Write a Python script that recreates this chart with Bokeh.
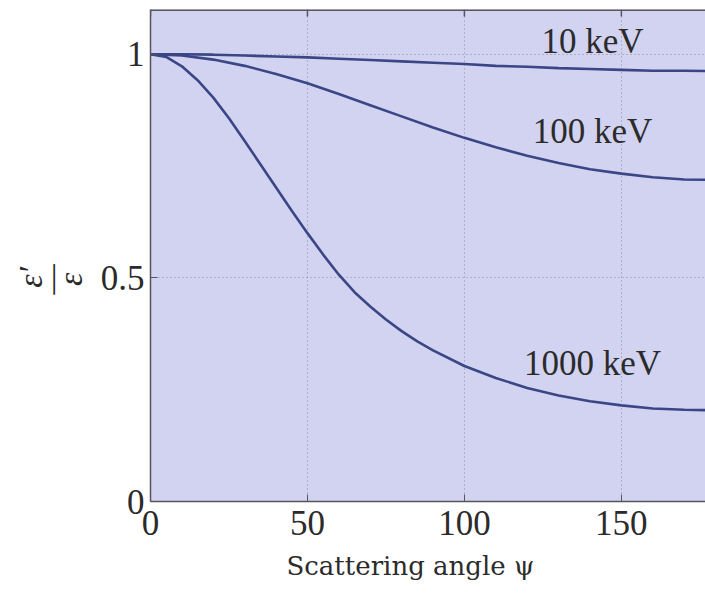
import numpy as np
from bokeh.plotting import figure
from bokeh.models import Range1d, FixedTicker, Label, Title, Span
from bokeh.embed import file_html
from bokeh.resources import INLINE

# Scattering angle (degrees) sample points
psi_10 = [0, 10, 20, 30, 40, 50, 60, 70, 80, 90, 100, 110, 120, 130, 140, 150, 160, 170, 180]
ratio_10 = [1.0, 1.0, 0.999, 0.997, 0.995, 0.993, 0.990, 0.987, 0.984, 0.981, 0.978,
            0.974, 0.972, 0.969, 0.967, 0.965, 0.963, 0.963, 0.962]

psi_100 = [0, 10, 20, 30, 40, 50, 60, 70, 80, 90, 100, 110, 120, 130, 140, 150, 160, 170, 180]
ratio_100 = [1.0, 0.997, 0.988, 0.974, 0.956, 0.935, 0.911, 0.886, 0.861, 0.836, 0.813,
             0.792, 0.773, 0.757, 0.743, 0.733, 0.725, 0.720, 0.719]

psi_1000 = [0, 5, 10, 15, 20, 25, 30, 35, 40, 45, 50, 55, 60, 65, 70, 75, 80, 85, 90,
            100, 110, 120, 130, 140, 150, 160, 170, 180]
ratio_1000 = [1.0, 0.994, 0.973, 0.942, 0.903, 0.857, 0.806, 0.754, 0.702, 0.650, 0.600,
              0.552, 0.507, 0.468, 0.436, 0.407, 0.381, 0.358, 0.338,
              0.303, 0.276, 0.254, 0.237, 0.224, 0.215, 0.208, 0.205, 0.204]

curve_labels = ["10 keV", "100 keV", "1000 keV"]
label_x = [140.8, 140.8, 140.8]
label_y = [1.029, 0.828, 0.309]

x_ticks = [0, 50, 100, 150]
y_ticks = [0, 0.5, 1]
y_tick_text = {0: "0", 0.5: "0.5", 1: "1"}

X_MAX = 176.8
Y_MAX = 1.1

FONT = "Liberation Serif"
TXT = "#2b2b2b"
AX = "#55565e"
LINE = "#3a4686"

p = figure(frame_width=555, frame_height=492, output_backend="svg", toolbar_location=None,
           x_range=Range1d(0, X_MAX), y_range=Range1d(0, Y_MAX),
           min_border_left=150, min_border_right=0, min_border_top=9, min_border_bottom=93)
p.background_fill_color = "#d2d3f0"
p.border_fill_color = "white"
p.outline_line_color = None

p.line(psi_10, ratio_10, line_color=LINE, line_width=2.6)
p.line(psi_100, ratio_100, line_color=LINE, line_width=2.6)
p.line(psi_1000, ratio_1000, line_color=LINE, line_width=2.6)

for t, lx, ly in zip(curve_labels, label_x, label_y):
    p.add_layout(Label(x=lx, y=ly, text=t, text_align="center", text_baseline="alphabetic",
                       text_font=FONT, text_font_size="35px", text_color=TXT))

for ax in (p.xaxis[0], p.yaxis[0]):
    ax.axis_line_color = AX
    ax.axis_line_width = 1.5
    ax.major_tick_line_color = AX
    ax.major_tick_in = 7
    ax.major_tick_out = 0
    ax.minor_tick_line_color = None
    ax.major_label_text_font = FONT
    ax.major_label_text_font_size = "35px"
    ax.major_label_text_color = TXT

p.xaxis[0].ticker = FixedTicker(ticks=x_ticks)
p.yaxis[0].ticker = FixedTicker(ticks=y_ticks)
p.yaxis[0].major_label_overrides = y_tick_text
p.xaxis[0].major_label_standoff = 9
p.yaxis[0].major_label_standoff = 6

# top frame line with inward ticks
p.add_layout(Span(location=Y_MAX, dimension="width", line_color=AX, line_width=3))
tick_len = 7 / 492 * Y_MAX
p.segment(x0=x_ticks, y0=[Y_MAX] * len(x_ticks), x1=x_ticks,
          y1=[Y_MAX - tick_len] * len(x_ticks), line_color=AX, line_width=1.5)

p.xgrid.ticker = FixedTicker(ticks=x_ticks)
p.ygrid.ticker = FixedTicker(ticks=y_ticks)
for g in (p.xgrid[0], p.ygrid[0]):
    g.grid_line_color = "#8a8aa0"
    g.grid_line_dash = "1 3"
    g.grid_line_width = 1

# x axis label
p.add_layout(Title(text="Scattering angle ψ", align="left", offset=136, standoff=23,
                   text_font="DejaVu Serif", text_font_size="26px", text_font_style="normal",
                   text_color=TXT), "below")

# y axis label: stacked fraction epsilon'/epsilon (rotated in the left panel)
p.add_layout(Title(text="\u2009ε′\n—\n\u2008ε", align="left", offset=207, standoff=16,
                   text_font=FONT, text_font_size="34px", text_font_style="italic",
                   text_line_height=0.55, text_color=TXT), "left")

open("out.html", "w").write(file_html(p, INLINE))
